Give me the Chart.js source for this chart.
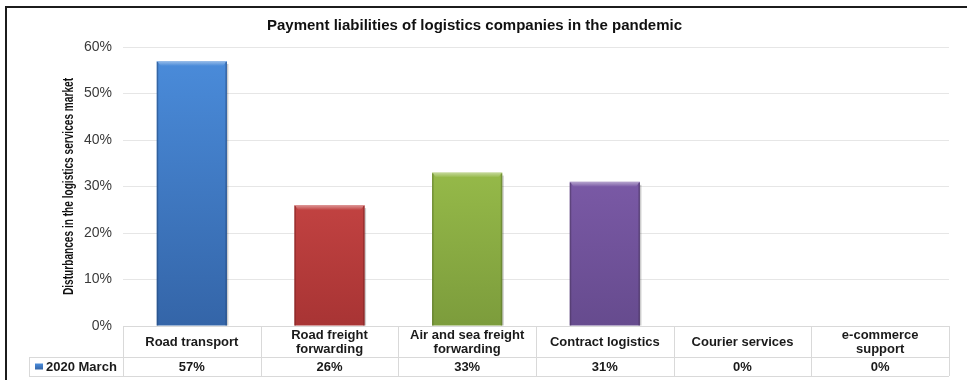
<!DOCTYPE html>
<html>
<head>
<meta charset="utf-8">
<script src="https://cdn.jsdelivr.net/npm/chart.js@4.4.1/dist/chart.umd.min.js"></script>
<style>
  html, body { margin: 0; padding: 0; background: #fff; }
  #wrap { position: relative; width: 967px; height: 380px; overflow: hidden; }
  #frame { position: absolute; left: 5px; top: 6px; right: -10px; bottom: -10px;
           border-left: 2px solid #1c1c1c; border-top: 2px solid #1c1c1c; pointer-events: none; }
  canvas { position: absolute; left: 0; top: 0; }
</style>
</head>
<body>
<div id="wrap">
  <canvas id="chart" width="967" height="380"></canvas>
  <div id="frame"></div>
</div>
<script>
// categories and values
const categories = [
  ['Road transport'],
  ['Road freight', 'forwarding'],
  ['Air and sea freight', 'forwarding'],
  ['Contract logistics'],
  ['Courier services'],
  ['e-commerce', 'support']
];
const seriesName = '2020 March';
const values = [57, 26, 33, 31, 0, 0];
const yTicks = [0, 10, 20, 30, 40, 50, 60];
const yTitle = 'Disturbances in the logistics services market';

// bar colours: top, bottom, edge
const barTop = ['#4b8ddc', '#e25452', '#aad153', '#8c66bb'];
const barBottom = ['#3465a8', '#a83434', '#7c9c3c', '#664b8e'];
const barEdge = ['#25497c', '#7a2322', '#5a7229', '#48345f'];

function gradientFor(ctx, chart, i) {
  const area = chart.chartArea;
  if (!area) return barTop[i % barTop.length];
  const g = ctx.createLinearGradient(0, area.top, 0, area.bottom);
  g.addColorStop(0, barTop[i % barTop.length]);
  g.addColorStop(1, barBottom[i % barBottom.length]);
  return g;
}

// bevel on each bar: light top lip, darker sides
const bevel = {
  id: 'bevel',
  afterDatasetsDraw(chart) {
    const ctx = chart.ctx;
    const meta = chart.getDatasetMeta(0);
    meta.data.forEach((bar, i) => {
      const h = bar.base - bar.y;
      if (h < 1) return;
      const l = bar.x - bar.width / 2, r = bar.x + bar.width / 2;
      ctx.save();
      const lip = ctx.createLinearGradient(0, bar.y, 0, bar.y + 5);
      lip.addColorStop(0, 'rgba(255,255,255,0.45)');
      lip.addColorStop(1, 'rgba(255,255,255,0)');
      ctx.fillStyle = lip;
      ctx.beginPath();
      ctx.moveTo(l, bar.y);
      ctx.lineTo(r, bar.y);
      ctx.lineTo(r - 4, bar.y + 5);
      ctx.lineTo(l + 4, bar.y + 5);
      ctx.closePath();
      ctx.fill();
      ctx.globalAlpha = 0.55;
      ctx.strokeStyle = barEdge[i % barEdge.length];
      ctx.lineWidth = 1.5;
      ctx.beginPath();
      ctx.moveTo(l + 0.75, bar.y + 1);
      ctx.lineTo(l + 0.75, bar.base);
      ctx.moveTo(r - 0.75, bar.y + 1);
      ctx.lineTo(r - 0.75, bar.base);
      ctx.stroke();
      ctx.globalAlpha = 0.2;
      ctx.fillStyle = '#000';
      ctx.fillRect(r, bar.y + 3, 1.5, h - 3);
      ctx.restore();
    });
  }
};

// narrow, rotated axis title
const axisTitle = {
  id: 'axisTitle',
  afterDraw(chart) {
    const ctx = chart.ctx;
    const a = chart.chartArea;
    ctx.save();
    ctx.font = 'bold 14px "Liberation Sans", Arial, sans-serif';
    const squeeze = 217 / ctx.measureText(yTitle).width;
    ctx.translate(69, (a.top + a.bottom) / 2);
    ctx.rotate(-Math.PI / 2);
    ctx.scale(squeeze, 1);
    ctx.fillStyle = '#111';
    ctx.textAlign = 'center';
    ctx.textBaseline = 'middle';
    ctx.fillText(yTitle, 0, 0);
    ctx.restore();
  }
};

// data table under the plot
const dataTable = {
  id: 'dataTable',
  afterDraw(chart) {
    const ctx = chart.ctx;
    const xs = chart.scales.x;
    const n = categories.length;
    const w = (xs.right - xs.left) / n;
    const top = chart.chartArea.bottom;
    const mid = top + 31;
    const bot = top + 50;
    const keyLeft = 29;
    ctx.save();
    ctx.strokeStyle = '#d9d9d9';
    ctx.lineWidth = 1;
    ctx.beginPath();
    ctx.moveTo(xs.left, top + 0.5); ctx.lineTo(xs.right, top + 0.5);
    ctx.moveTo(keyLeft, mid + 0.5); ctx.lineTo(xs.right, mid + 0.5);
    ctx.moveTo(keyLeft, bot + 0.5); ctx.lineTo(xs.right, bot + 0.5);
    ctx.moveTo(keyLeft + 0.5, mid); ctx.lineTo(keyLeft + 0.5, bot);
    for (let i = 0; i <= n; i++) {
      const x = Math.round(xs.left + i * w) + 0.5;
      ctx.moveTo(x, top); ctx.lineTo(x, bot);
    }
    ctx.stroke();

    ctx.fillStyle = '#1a1a1a';
    ctx.font = 'bold 13px "Liberation Sans", Arial, sans-serif';
    ctx.textAlign = 'center';
    ctx.textBaseline = 'middle';
    categories.forEach((lines, i) => {
      const cx = xs.getPixelForValue(i);
      const y0 = (top + mid) / 2 - (lines.length - 1) * 14 / 2 + 1;
      lines.forEach((t, k) => ctx.fillText(t, cx, y0 + k * 14));
      ctx.fillText(values[i] + '%', cx, (mid + bot) / 2 + 1);
    });

    // legend key
    const ky = (mid + bot) / 2;
    const kg = ctx.createLinearGradient(0, ky - 3, 0, ky + 3);
    kg.addColorStop(0, barTop[0]);
    kg.addColorStop(1, barBottom[0]);
    ctx.fillStyle = kg;
    ctx.fillRect(keyLeft + 6, ky - 3, 8, 6);
    ctx.fillStyle = '#1a1a1a';
    ctx.textAlign = 'left';
    ctx.fillText(seriesName, keyLeft + 17, ky + 1);
    ctx.restore();
  }
};

new Chart(document.getElementById('chart'), {
  type: 'bar',
  data: {
    labels: categories.map(c => c.join(' ')),
    datasets: [{
      label: seriesName,
      data: values,
      backgroundColor: c => gradientFor(c.chart.ctx, c.chart, c.dataIndex),
      borderWidth: 0,
      barPercentage: 0.51,
      categoryPercentage: 1
    }]
  },
  options: {
    responsive: false,
    animation: false,
    layout: { padding: { left: 0, right: 18, top: 0, bottom: 54 } },
    plugins: {
      legend: { display: false },
      tooltip: { enabled: false },
      title: {
        display: true,
        text: 'Payment liabilities of logistics companies in the pandemic',
        color: '#111',
        font: { family: '"Liberation Sans", Arial, sans-serif', size: 15, weight: 'bold' },
        padding: { top: 17, bottom: 12 }
      }
    },
    scales: {
      x: { display: false },
      y: {
        min: 0,
        max: 60,
        afterBuildTicks: s => { s.ticks = yTicks.map(v => ({ value: v })); },
        afterFit: s => { s.width = 123; },
        border: { display: false },
        grid: { color: '#e6e6e6', drawTicks: false },
        ticks: {
          padding: 11,
          color: '#3a3a3a',
          font: { family: '"Liberation Sans", Arial, sans-serif', size: 14 },
          callback: v => v + '%'
        }
      }
    }
  },
  plugins: [bevel, axisTitle, dataTable]
});
</script>
</body>
</html>
